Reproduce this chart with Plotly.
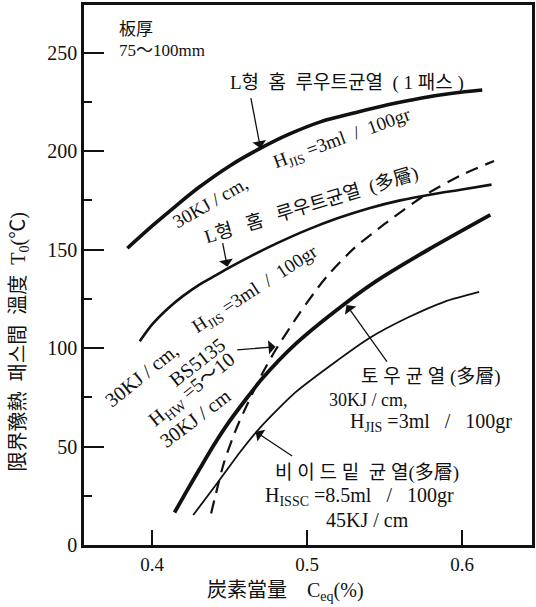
import plotly.graph_objects as go

# ---------------- data ----------------
ceq_root1 = [0.384, 0.400, 0.415, 0.430, 0.450, 0.470, 0.488, 0.509, 0.531, 0.552, 0.574, 0.595, 0.613]
t_root1 = [150.7, 162, 172, 181.5, 192.5, 201.5, 208.5, 215, 219.5, 223.5, 227, 229.5, 231]

ceq_rootm = [0.392, 0.400, 0.410, 0.420, 0.430, 0.440, 0.450, 0.460, 0.480, 0.500, 0.520, 0.540, 0.560, 0.580, 0.600, 0.619]
t_rootm = [103.5, 112, 120, 126.5, 132, 136.5, 141, 145.2, 153, 160, 166, 171, 175, 178, 180.5, 183]

ceq_bs = [0.438, 0.4464, 0.454, 0.462, 0.471, 0.480, 0.4945, 0.5073, 0.514, 0.530, 0.550, 0.5757, 0.600, 0.6206]
t_bs = [16, 42, 58.5, 72.5, 87, 99.5, 117, 131, 137.5, 150.5, 163, 177.5, 188, 195]

ceq_toe = [0.4144, 0.422, 0.4304, 0.440, 0.4496, 0.460, 0.471, 0.4924, 0.5233, 0.5458, 0.5778, 0.6182]
t_toe = [16.5, 27, 38.3, 51, 62.5, 73.5, 84.5, 102, 121.9, 134.6, 149.8, 167.6]

ceq_ub = [0.4265, 0.443, 0.457, 0.469, 0.4924, 0.520, 0.540, 0.565, 0.5885, 0.611]
t_ub = [15.2, 32.5, 47.5, 59, 77.5, 94, 105, 115.5, 123.5, 128.5]

x_tickvals = [0.4, 0.5, 0.6]
x_ticktext = ["0.4", "0.5", "0.6"]
y_tickvals = [0, 50, 100, 150, 200, 250]
y_ticktext = ["0", "50", "100", "150", "200", "250"]

# ---------------- figure ----------------
FONT = "Liberation Serif, 'Noto Sans CJK KR', serif"
BLACK = "#111111"

fig = go.Figure()

def curve(x, y, width, dash="solid"):
    fig.add_trace(go.Scatter(
        x=x, y=y, mode="lines",
        line=dict(color=BLACK, width=width, dash=dash, shape="spline", smoothing=0.7),
        showlegend=False, hoverinfo="skip"))

curve(ceq_root1, t_root1, 3.6)
curve(ceq_rootm, t_rootm, 2.6)
curve(ceq_bs, t_bs, 2.2, dash="13px,8px")
curve(ceq_toe, t_toe, 3.8)
curve(ceq_ub, t_ub, 1.8)

ann = []

def text(x, y, s, size=18, angle=0, xanchor="center", xref="x", yref="y"):
    ann.append(dict(x=x, y=y, xref=xref, yref=yref, text=s, showarrow=False,
                    textangle=angle, xanchor=xanchor, yanchor="middle",
                    font=dict(family=FONT, size=size, color=BLACK)))

def arrow(x0, y0, x1, y1):
    ann.append(dict(x=x1, y=y1, ax=x0, ay=y0, xref="x", yref="y", axref="x", ayref="y",
                    text="", showarrow=True, arrowhead=1, arrowsize=1.8, arrowwidth=1.3,
                    arrowcolor=BLACK, standoff=0, startstandoff=0))

NB = "\u00a0"
HJIS = "H<sub>JIS</sub>" + NB + "=3ml" + NB * 2 + "/" + NB * 2 + "100gr"

# thickness note
text(0.3772, 261.6, "板厚", size=17, xanchor="left")
text(0.3772, 250.9, "75～100mm", size=17, xanchor="left")

# L-groove root crack (1 pass)
text(0.5255, 234.6, "L형" + NB * 2 + "홈" + NB * 2 + "루우트균열" + NB * 2 + "(" + NB + "1"
     + NB + "패스" + NB + ")", size=19)
arrow(0.4635, 227.7, 0.4699, 201.5)
text(0.4374, 173.7, "30KJ / cm,", size=19, angle=-30)
text(0.5230, 206.0, HJIS, size=19, angle=-20)

# L-groove root crack (multi-layer)
text(0.5030, 172.7, "L형" + NB * 3 + "홈" + NB * 3 + "루우트균열" + NB * 2 + "(多層)", size=19, angle=-17)
arrow(0.4453, 154.0, 0.4485, 141.3)
text(0.3932, 86.3, "30KJ / cm,", size=20, angle=-39)
text(0.4664, 129.5, HJIS, size=19, angle=-33)

# BS5135
text(0.4291, 92.9, "BS5135", size=20, angle=-38)
text(0.4256, 78.7, "H<sub>HW</sub>" + NB + "=5～10", size=20, angle=-39)
text(0.4278, 64.5, "30KJ / cm", size=20, angle=-37)
arrow(0.4539, 99.0, 0.4796, 100.7)

# toe crack
text(0.5797, 85.3, "토" + NB + "우" + NB + "균" + NB + "열" + NB + "(多層)", size=19)
text(0.5399, 73.6, "30KJ / cm,", size=18)
text(0.5797, 62.0, "H<sub>JIS</sub>" + NB + "=3ml" + NB * 3 + "/" + NB * 3 + "100gr", size=20)
arrow(0.5522, 92.4, 0.5254, 121.9)

# under-bead crack
text(0.5389, 36.6, "비" + NB + "이" + NB + "드" + NB + "밑" + NB * 2 + "균" + NB + "열(多層)", size=19)
text(0.5337, 24.4, "H<sub>ISSC</sub>" + NB + "=8.5ml" + NB * 3 + "/" + NB * 3 + "100gr", size=20)
text(0.5389, 12.7, "45KJ / cm", size=20)
arrow(0.4913, 44.7, 0.4667, 57.5)

# axis titles
text(-0.144, 0.376, "限界豫熱" + NB * 2 + "패스間" + NB * 2 + "溫度" + NB * 2 + "T<sub>0</sub>(℃)",
     size=20, angle=-90, xref="paper", yref="paper")
text(0.450, -0.087, "炭素當量" + NB * 4 + "C<sub>eq</sub>(%)", size=20,
     xref="paper", yref="paper")

fig.update_layout(
    width=536, height=607,
    margin=dict(l=84, r=1, t=5, b=62),
    paper_bgcolor="white", plot_bgcolor="white",
    annotations=ann,
    font=dict(family=FONT, size=18, color=BLACK),
    xaxis=dict(range=[0.3560, 0.6451], showgrid=False, zeroline=False,
               showline=True, linecolor=BLACK, linewidth=2.5, mirror=True,
               ticks="inside", ticklen=15, tickwidth=1.5, tickcolor=BLACK,
               tickvals=x_tickvals, ticktext=x_ticktext,
               tickfont=dict(family=FONT, size=19, color=BLACK)),
    yaxis=dict(range=[0, 274.2], showgrid=False, zeroline=False,
               showline=True, linecolor=BLACK, linewidth=2.5, mirror=True,
               ticks="inside", ticklen=20, tickwidth=1.5, tickcolor=BLACK,
               tickvals=y_tickvals, ticktext=y_ticktext,
               minor=dict(tickvals=[25, 75, 125, 175, 225], ticks="inside",
                          ticklen=8, tickwidth=1.5, tickcolor=BLACK),
               tickfont=dict(family=FONT, size=20, color=BLACK)),
)

fig.write_html("out.html", config={"displayModeBar": False},
               post_script="document.body.style.margin='0px';document.body.style.overflow='hidden';")
